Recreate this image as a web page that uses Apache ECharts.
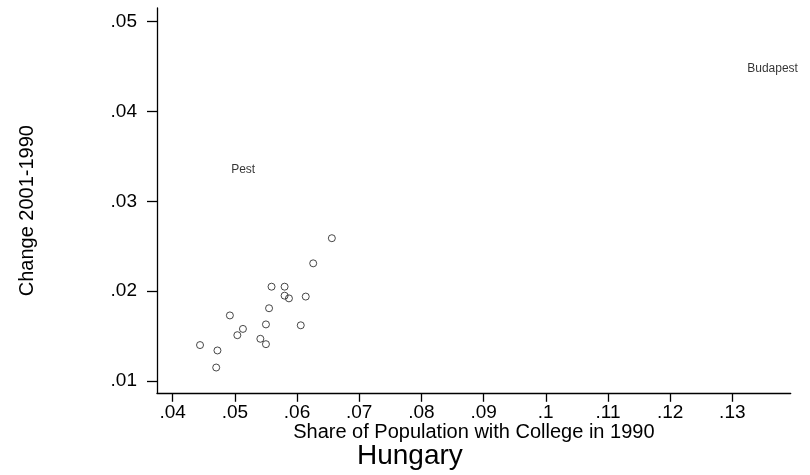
<!DOCTYPE html>
<html>
<head>
<meta charset="utf-8">
<script src="https://cdn.jsdelivr.net/npm/echarts@6/dist/echarts.min.js"></script>
<style>
html,body{margin:0;padding:0;background:#fff;}
#chart{width:810px;height:475px;}
</style>
</head>
<body>
<div id="chart"></div>
<script>
// Counties (unlabelled markers)
var countyShare = [0.0656, 0.0626, 0.0559, 0.0580, 0.0580, 0.0587, 0.0614, 0.0555, 0.0492, 0.0550, 0.0606, 0.0513, 0.0504, 0.0541, 0.0550, 0.0444, 0.0472, 0.0470];
var countyChange = [0.0259, 0.0231, 0.0205, 0.0205, 0.0195, 0.0192, 0.0194, 0.0181, 0.0173, 0.0163, 0.0162, 0.0158, 0.0151, 0.0147, 0.0141, 0.0140, 0.0134, 0.0115];
// Labelled regions
var labelNames = ["Pest", "Budapest"];
var labelShare = [0.0490, 0.1320];
var labelChange = [0.0335, 0.0448];
// Axis ticks
var xTicks = [0.04, 0.05, 0.06, 0.07, 0.08, 0.09, 0.10, 0.11, 0.12, 0.13];
var yTicks = [0.01, 0.02, 0.03, 0.04, 0.05];

var FONT = '"Liberation Sans", Arial, Helvetica, sans-serif';
function fmt(v){ return String(+(+v).toFixed(3)).replace(/^0\./, '.'); }

var countyData = countyShare.map(function(x, i){ return [x, countyChange[i]]; });
var labelData = labelNames.map(function(n, i){ return {name: n, value: [labelShare[i], labelChange[i]]}; });

var chart = echarts.init(document.getElementById('chart'), null, {renderer: 'canvas'});
chart.setOption({
  animation: false,
  backgroundColor: '#ffffff',
  textStyle: {fontFamily: FONT},
  title: {
    text: 'Hungary',
    left: 357, top: 442, padding: 0,
    textStyle: {fontFamily: FONT, fontSize: 28, fontWeight: 'normal', color: '#000'}
  },
  grid: {left: 157, top: 8, right: 19.3, bottom: 81.7, containLabel: false},
  xAxis: {
    type: 'value',
    min: 0.03748, max: 0.13939,
    name: 'Share of Population with College in 1990',
    nameLocation: 'middle', nameGap: 29, nameMoveOverlap: false,
    nameTextStyle: {fontFamily: FONT, fontSize: 20, color: '#000'},
    axisLine: {show: true, onZero: false, lineStyle: {color: '#000', width: 1.3}},
    axisTick: {show: true, length: 8.5, customValues: xTicks, lineStyle: {color: '#000', width: 1.3}},
    axisLabel: {show: true, customValues: xTicks, margin: 10, fontFamily: FONT, fontSize: 19, color: '#000', formatter: fmt},
    splitLine: {show: false}
  },
  yAxis: {
    type: 'value',
    min: 0.00863, max: 0.05153,
    name: 'Change 2001-1990',
    nameLocation: 'middle', nameGap: 120, nameMoveOverlap: false,
    nameTextStyle: {fontFamily: FONT, fontSize: 20, color: '#000', padding: [0, 20, 0, 0]},
    axisLine: {show: true, onZero: false, lineStyle: {color: '#000', width: 1.3}},
    axisTick: {show: true, length: 10, customValues: yTicks, lineStyle: {color: '#000', width: 1.3}},
    axisLabel: {show: true, customValues: yTicks, margin: 20, fontFamily: FONT, fontSize: 19, color: '#000', formatter: fmt},
    splitLine: {show: false}
  },
  series: [
    {
      type: 'scatter',
      data: countyData,
      symbol: 'circle',
      symbolSize: 7,
      itemStyle: {color: 'rgba(255,255,255,0)', borderColor: '#1a1a1a', borderWidth: 1},
      silent: true
    },
    {
      type: 'scatter',
      data: labelData,
      symbolSize: 1,
      itemStyle: {color: 'rgba(255,255,255,0)', borderWidth: 0},
      label: {
        show: true, position: 'right', distance: 2,
        formatter: '{b}',
        fontFamily: FONT, fontSize: 12, color: '#000'
      },
      silent: true
    }
  ]
});
</script>
</body>
</html>
